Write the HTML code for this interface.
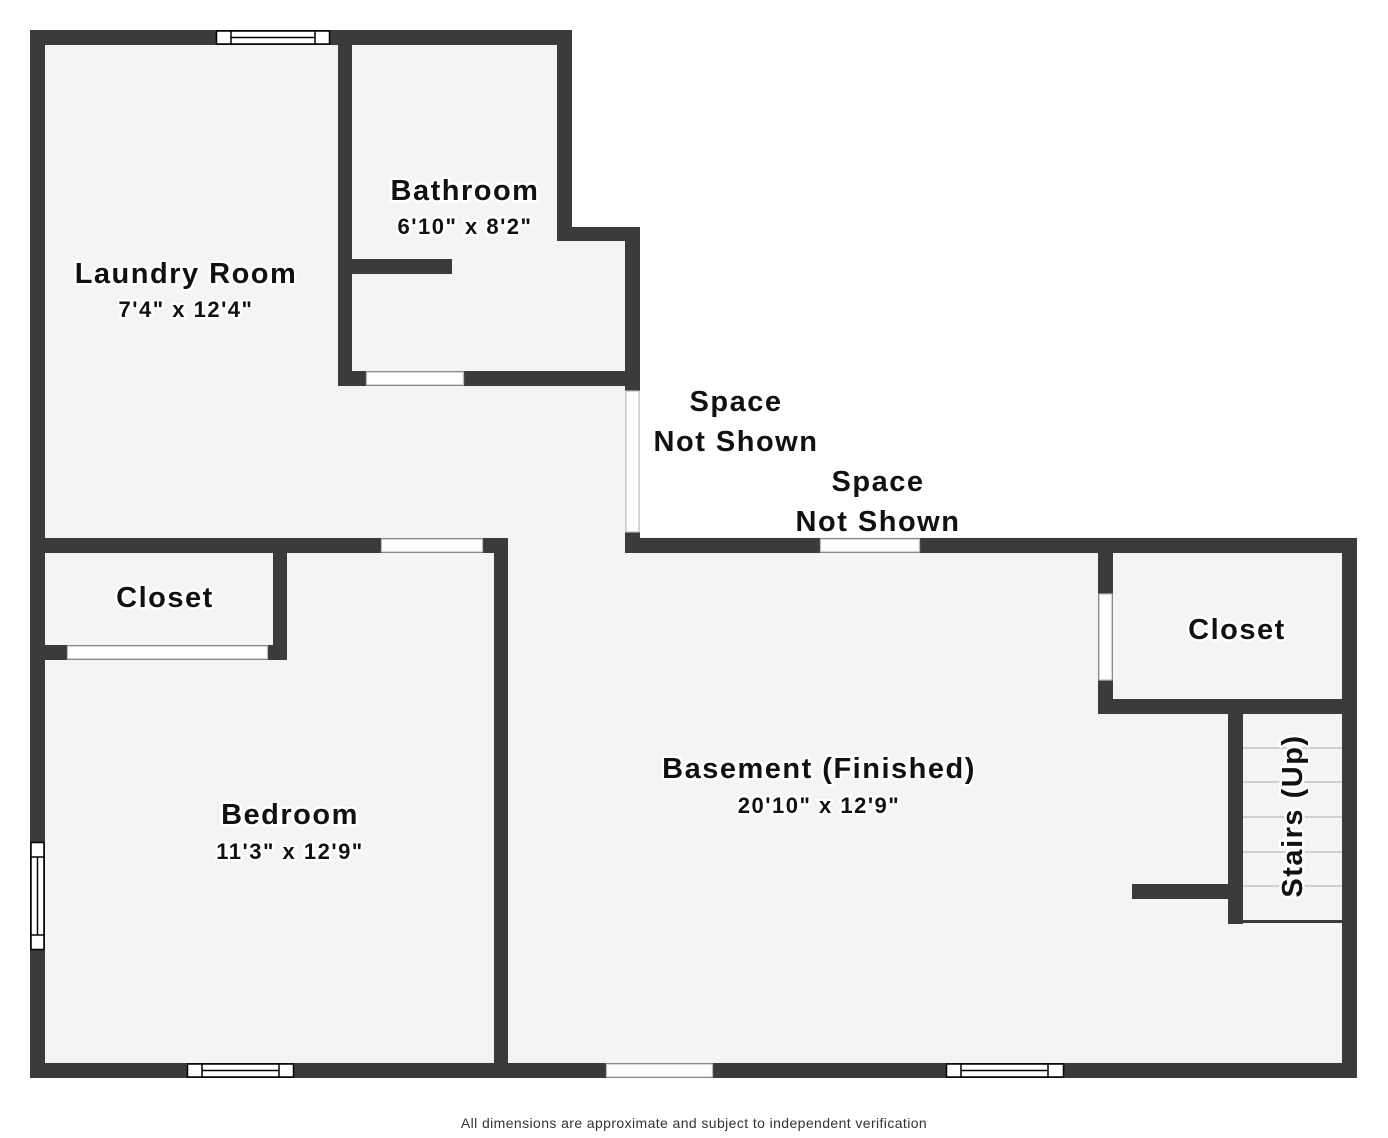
<!DOCTYPE html>
<html><head><meta charset="utf-8"><style>
html,body{margin:0;padding:0;background:#fff;}
svg{display:block}
.n{font-family:"Liberation Sans",sans-serif;font-weight:bold;fill:#111;stroke:#fff;stroke-width:5px;paint-order:stroke;stroke-linejoin:round;letter-spacing:1.5px}
</style></head><body>
<svg width="1388" height="1138" viewBox="0 0 1388 1138" xmlns="http://www.w3.org/2000/svg">
<polygon points="30,30 572,30 572,227 640,227 640,537 1357,537 1357,1077 30,1077" fill="#f4f4f4"/>
<g fill="#3b3b3b">
<rect x="30" y="30" width="15" height="1048"/>
<rect x="30" y="30" width="542" height="15"/>
<rect x="338" y="30" width="14" height="356"/>
<rect x="557" y="30" width="15" height="211"/>
<rect x="557" y="227" width="83" height="14"/>
<rect x="625" y="227" width="15" height="164"/>
<rect x="338" y="371" width="302" height="15"/>
<rect x="345" y="259" width="107" height="15"/>
<rect x="625" y="532" width="15" height="21"/>
<rect x="625" y="538" width="732" height="15"/>
<rect x="1342" y="538" width="15" height="540"/>
<rect x="30" y="1063" width="1327" height="15"/>
<rect x="30" y="538" width="478" height="15"/>
<rect x="494" y="538" width="14" height="540"/>
<rect x="273" y="538" width="14" height="122"/>
<rect x="30" y="645" width="257" height="15"/>
<rect x="1098" y="538" width="15" height="176"/>
<rect x="1098" y="699" width="259" height="15"/>
<rect x="1228" y="699" width="15" height="225"/>
<rect x="1132" y="884" width="100" height="15"/>
</g>
<rect x="1243" y="920" width="99" height="3" fill="#3b3b3b"/>
<g stroke="#aaa" stroke-width="1">
<line x1="1243" y1="748" x2="1342" y2="748"/>
<line x1="1243" y1="782" x2="1342" y2="782"/>
<line x1="1243" y1="817" x2="1342" y2="817"/>
<line x1="1243" y1="852" x2="1342" y2="852"/>
<line x1="1243" y1="886" x2="1342" y2="886"/>
</g>
<g fill="#fff" stroke="#bbb" stroke-width="1.2">
<rect x="366.5" y="372" width="97" height="13"/>
<rect x="626" y="391" width="13" height="141"/>
<rect x="820.5" y="539" width="99" height="13"/>
<rect x="381.5" y="539" width="101" height="13"/>
<rect x="67.5" y="646" width="200" height="13"/>
<rect x="1099" y="594" width="13" height="86"/>
<rect x="606.5" y="1064" width="106" height="13"/>
</g>
<g fill="#fff" stroke="#000" stroke-width="1.5">
<rect x="216.5" y="31" width="113" height="13"/>
<rect x="231" y="31" width="84" height="13"/>
<line x1="231" y1="37.5" x2="315" y2="37.5"/>
<rect x="31" y="842.5" width="13" height="107"/>
<rect x="31" y="857" width="13" height="78"/>
<line x1="37.5" y1="857" x2="37.5" y2="935"/>
<rect x="187.5" y="1064" width="106" height="13"/>
<rect x="202" y="1064" width="77" height="13"/>
<line x1="202" y1="1070.5" x2="279" y2="1070.5"/>
<rect x="946.5" y="1064" width="117" height="13"/>
<rect x="961" y="1064" width="87" height="13"/>
<line x1="961" y1="1070.5" x2="1048" y2="1070.5"/>
</g>
<g class="n" text-anchor="middle">
<text x="465" y="200" font-size="29">Bathroom</text>
<text x="465" y="234" font-size="22">6'10" x 8'2"</text>
<text x="186" y="283" font-size="29">Laundry Room</text>
<text x="186" y="317" font-size="22">7'4" x 12'4"</text>
<text x="736" y="411" font-size="29">Space</text>
<text x="736" y="451" font-size="29">Not Shown</text>
<text x="878" y="491" font-size="29">Space</text>
<text x="878" y="531" font-size="29">Not Shown</text>
<text x="165" y="607" font-size="29">Closet</text>
<text x="1237" y="639" font-size="29">Closet</text>
<text x="819" y="778" font-size="29">Basement (Finished)</text>
<text x="819" y="813" font-size="22">20'10" x 12'9"</text>
<text x="290" y="824" font-size="29">Bedroom</text>
<text x="290" y="859" font-size="22">11'3" x 12'9"</text>
<text x="0" y="0" font-size="29" transform="translate(1302,816) rotate(-90)">Stairs (Up)</text>
</g>
<text x="694" y="1128" text-anchor="middle" font-family="Liberation Sans,sans-serif" font-size="14" fill="#333" letter-spacing="0.4">All dimensions are approximate and subject to independent verification</text>
</svg>
</body></html>
